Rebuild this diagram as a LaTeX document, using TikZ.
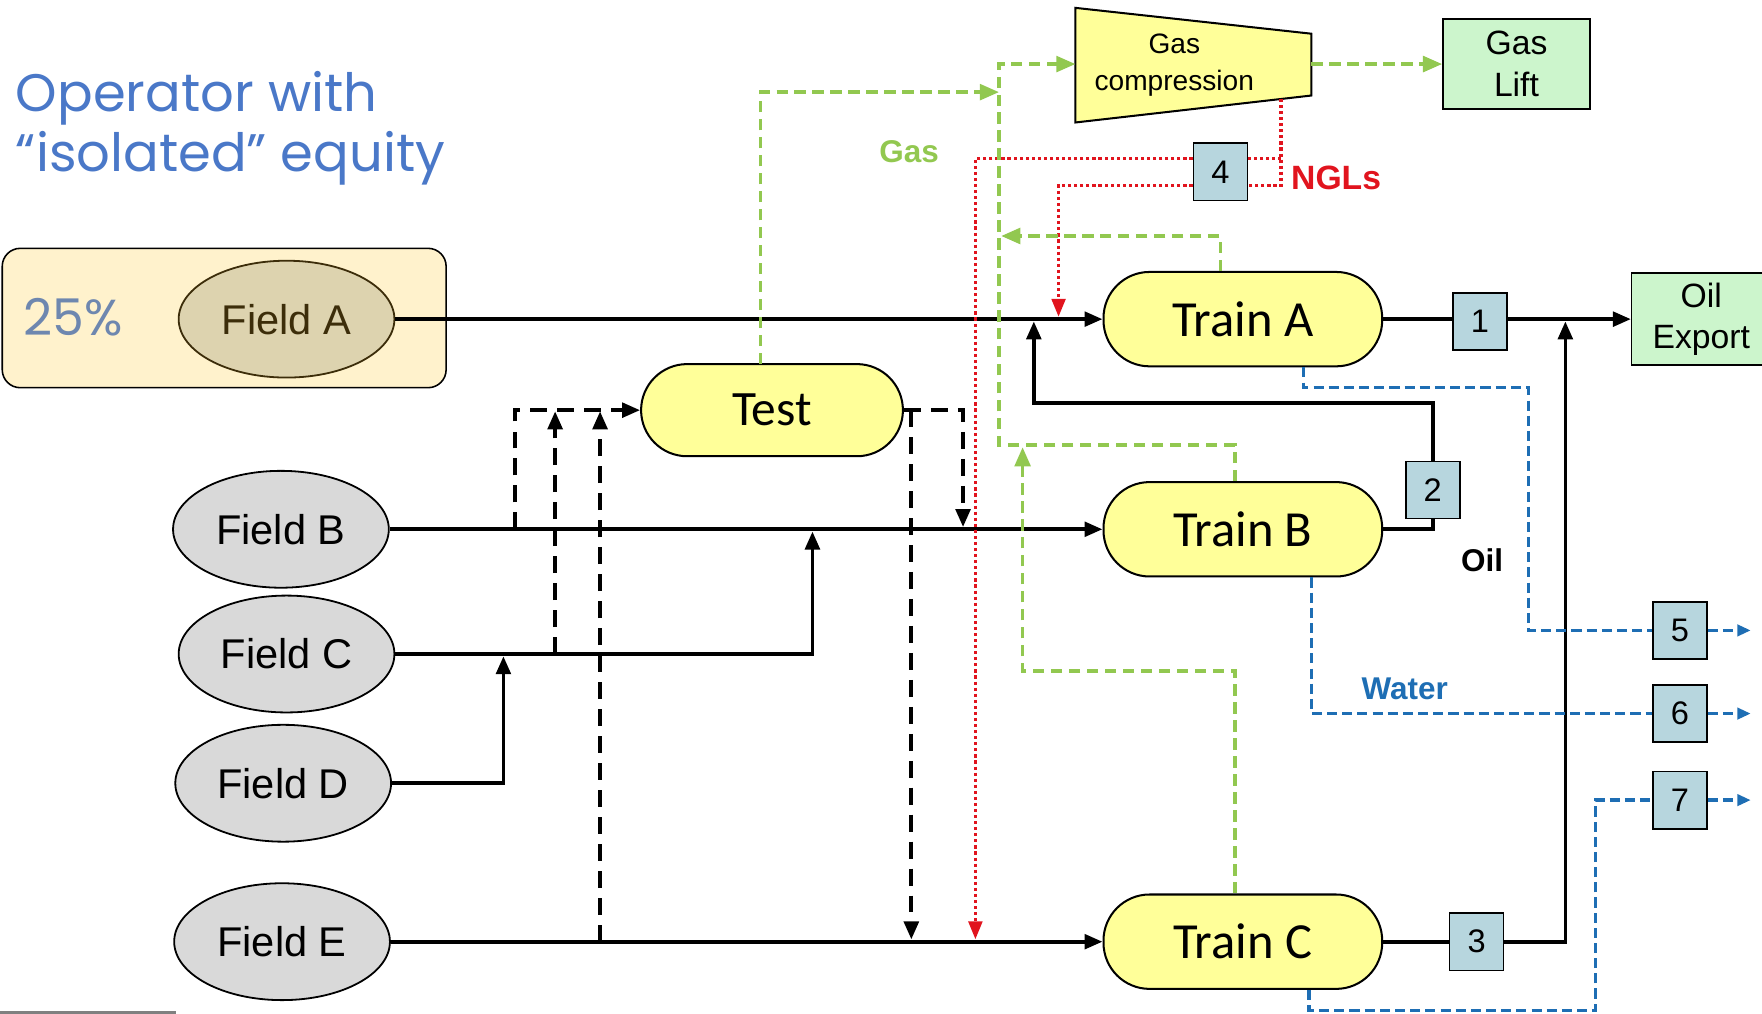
\documentclass[tikz,border=0pt]{standalone}
\usepackage{fontspec}
\setmainfont{Liberation Sans}
\newfontfamily\carlito{Carlito}
\newfontfamily\poppins{Poppins}
\usetikzlibrary{arrows.meta,shapes.geometric,calc}
\definecolor{trainyellow}{RGB}{255,255,153}
\definecolor{fieldgray}{RGB}{217,217,217}
\definecolor{fieldtan}{RGB}{221,211,175}
\definecolor{boxcream}{RGB}{255,242,204}
\definecolor{valveblue}{RGB}{183,214,222}
\definecolor{liftgreen}{RGB}{204,245,204}
\definecolor{gasgreen}{RGB}{146,200,80}
\definecolor{nglred}{RGB}{225,20,30}
\definecolor{waterblue}{RGB}{30,110,180}
\definecolor{titleblue}{RGB}{74,120,200}
\definecolor{pctblue}{RGB}{110,135,175}
\definecolor{fieldbrown}{RGB}{60,45,10}
\tikzset{
  train/.style={draw, line width=1.8pt, fill=trainyellow, rounded corners=41pt,
    minimum width=248pt, minimum height=84pt, inner sep=0pt,
    font=\carlito\fontsize{45}{50}\selectfont},
  field/.style={draw, line width=1.6pt, fill=fieldgray, ellipse, minimum width=192pt,
    minimum height=104pt, inner sep=0pt, font=\fontsize{37}{40}\selectfont},
  valve/.style={draw, line width=1.4pt, fill=valveblue, minimum width=48pt,
    minimum height=51pt, inner sep=0pt, font=\fontsize{29}{32}\selectfont},
  outbox/.style={draw, line width=1.4pt, fill=liftgreen, inner sep=0pt,
    align=center, font=\fontsize{30}{37}\selectfont},
  oil/.style={line width=3.3pt, black},
  arr/.style={-{Triangle[length=16pt,width=13pt]}},
  testl/.style={line width=3.3pt, black, dash pattern=on 15pt off 9pt},
  gas/.style={line width=3pt, gasgreen, dash pattern=on 10pt off 6pt},
  garr/.style={-{Triangle[length=17pt,width=14pt]}},
  ngl/.style={line width=3.1pt, nglred, dash pattern=on 2.8pt off 2.6pt},
  rarr/.style={-{Triangle[length=16pt,width=12pt]}},
  water/.style={line width=3pt, waterblue, dash pattern=on 9pt off 4.5pt},
  barr/.style={-{Triangle[length=12pt,width=10pt]}},
  lbl/.style={font=\bfseries\fontsize{28}{30}\selectfont, inner sep=0pt}
}
\begin{document}
\begin{tikzpicture}[x=1pt,y=-1pt]
\useasboundingbox (0,0) rectangle (1568,902);
\begin{scope}
\clip (0,0) rectangle (1568,902);

% title
\node[anchor=base west, inner sep=0pt, text=titleblue, font=\poppins\fontsize{47}{52}\selectfont] (t1) at (14,99) {Operator with};
\node[anchor=base west, inner sep=0pt, text=titleblue, font=\poppins\fontsize{47}{52}\selectfont] (t2) at (14,153) {“isolated” equity};

% equity box
\node[draw, line width=1.4pt, fill=boxcream, rounded corners=16pt, minimum width=395pt, minimum height=124pt, inner sep=0pt] (eq) at (199.5,283) {};
\node[anchor=base west, inner sep=0pt, text=pctblue, font=\poppins\fontsize{45}{48}\selectfont] (pct) at (21,299) {25\%};

% fields
\node[field, fill=fieldtan, draw=fieldbrown, text=fieldbrown] (fA) at (255,284) {Field A};
\node[field] (fB) at (250,471) {Field B};
\node[field] (fC) at (255,582) {Field C};
\node[field] (fD) at (252,697) {Field D};
\node[field] (fE) at (251,838) {Field E};

% trains
\node[train] (tA) at (1106,284) {Train A};
\node[train] (tB) at (1106,471) {Train B};
\node[train] (tC) at (1106,838) {Train C};
\node[train, minimum width=233pt, minimum height=82pt, font=\carlito\fontsize{44}{48}\selectfont] (test) at (687,365) {Test};

% gas compression
\draw[line width=1.8pt, fill=trainyellow] (957,7) -- (1167,30) -- (1167,85) -- (957,109) -- cycle;
\node[inner sep=0pt, align=center, font=\fontsize{25}{33}\selectfont] (comp) at (1045,58) {Gas\\compression};
\coordinate (compin) at (957,57);
\coordinate (compout) at (1167,57);
\coordinate (compngl) at (1140,88);

% output boxes
\node[outbox, minimum width=131pt, minimum height=80pt] (lift) at (1349.5,57) {Gas\\Lift};
\node[outbox, minimum width=124pt, minimum height=82pt] (oilx) at (1514,284) {Oil\\Export};

% valves
\node[valve] (v1) at (1317,286) {1};
\node[valve] (v2) at (1275,436) {2};
\node[valve] (v3) at (1314,838) {3};
\node[valve] (v4) at (1086,153) {4};
\node[valve] (v5) at (1495,561) {5};
\node[valve] (v6) at (1495,635) {6};
\node[valve] (v7) at (1495,712) {7};

% junction coordinates
\coordinate (jC) at (723,473);
\coordinate (jD) at (448,584);
\coordinate (jA) at (920,286);
\coordinate (jO) at (1393,286);
\coordinate (tb1) at (458,471);
\coordinate (tc1) at (494,582);
\coordinate (tc1e) at (494,366);
\coordinate (te1) at (534,838);
\coordinate (te1e) at (534,366);
\coordinate (to1) at (857,469);
\coordinate (to2s) at (811,365);
\coordinate (to2) at (811,836);
\coordinate (gtest) at (677,324);
\coordinate (gj) at (889,82);
\coordinate (gA) at (891,210);
\coordinate (gC) at (910,398);
\coordinate (rA) at (942,282);
\coordinate (rC) at (868,836);
\coordinate (o5) at (1558,561);
\coordinate (o6) at (1558,635);
\coordinate (o7) at (1558,712);

% oil lines
\draw[oil, arr] (fA.east) -- (tA.west);
\draw[oil, arr] (fB.east) -- (tB.west);
\draw[oil, arr] (fE.east) -- (tC.west);
\draw[oil, arr] (fC.east) -| (jC);
\draw[oil, arr] (fD.east) -| (jD);
\draw[oil] (tA.east) -- (tA.east -| v1.west);
\draw[oil, arr] (v1.east |- tA.east) -- (oilx.west);
\draw[oil] (tB.east) -| (v2.south);
\draw[oil, arr] (v2.north) -- ++(0,-51) -| (jA);
\draw[oil] (tC.east) -- (v3.west);
\draw[oil, arr] (v3.east) -| (jO);

% test lines
\draw[testl, arr] (tb1) |- (test.west);
\draw[testl, arr] (tc1) -- (tc1e);
\draw[testl, arr] (te1) -- (te1e);
\draw[testl, arr] (test.east) -| (to1);
\draw[testl, arr] (to2s) -- (to2);

% NGL lines
\draw[ngl] (compngl) |- ($(v4.east)+(0,12)$);
\draw[ngl] (compngl |- 0,141) -- ($(v4.east)+(0,-12)$);
\draw[ngl, rarr] ($(v4.west)+(0,-12)$) -| (rC);
\draw[ngl, rarr] ($(v4.west)+(0,12)$) -| (rA);

% gas lines
\draw[gas, garr] (gtest) |- (gj);
\draw[gas, garr] ($(tB.north)+(-7,0)$) |- (889,396) |- (compin);
\draw[gas, garr] ($(tA.north)+(-20,0)$) |- (gA);
\draw[gas, garr] ($(tC.north)+(-7,0)$) |- (910,597) -- (gC);
\draw[gas, garr] (compout) -- (lift.west);

% water lines
\draw[water] ($(tA.south)+(54,0)$) |- (1360,345) |- (v5.west);
\draw[water] ($(tB.south)+(61,0)$) |- (v6.west);
\draw[water] ($(tC.south)+(59,0)$) |- (1420,899) |- (v7.west);
\draw[water, barr] (v5.east) -- (o5);
\draw[water, barr] (v6.east) -- (o6);
\draw[water, barr] (v7.east) -- (o7);

% labels
\node[lbl, text=gasgreen] (lgas) at (809,135) {Gas};
\node[lbl, text=nglred, font=\bfseries\fontsize{30}{32}\selectfont] (lngl) at (1189,158) {NGLs};
\node[lbl] (loil) at (1319,499) {Oil};
\node[lbl, text=waterblue] (lwater) at (1250,613) {Water};

% bottom grey rule
\draw[gray, line width=2pt] (0,901) -- (157,901);
\end{scope}
\end{tikzpicture}
\end{document}
